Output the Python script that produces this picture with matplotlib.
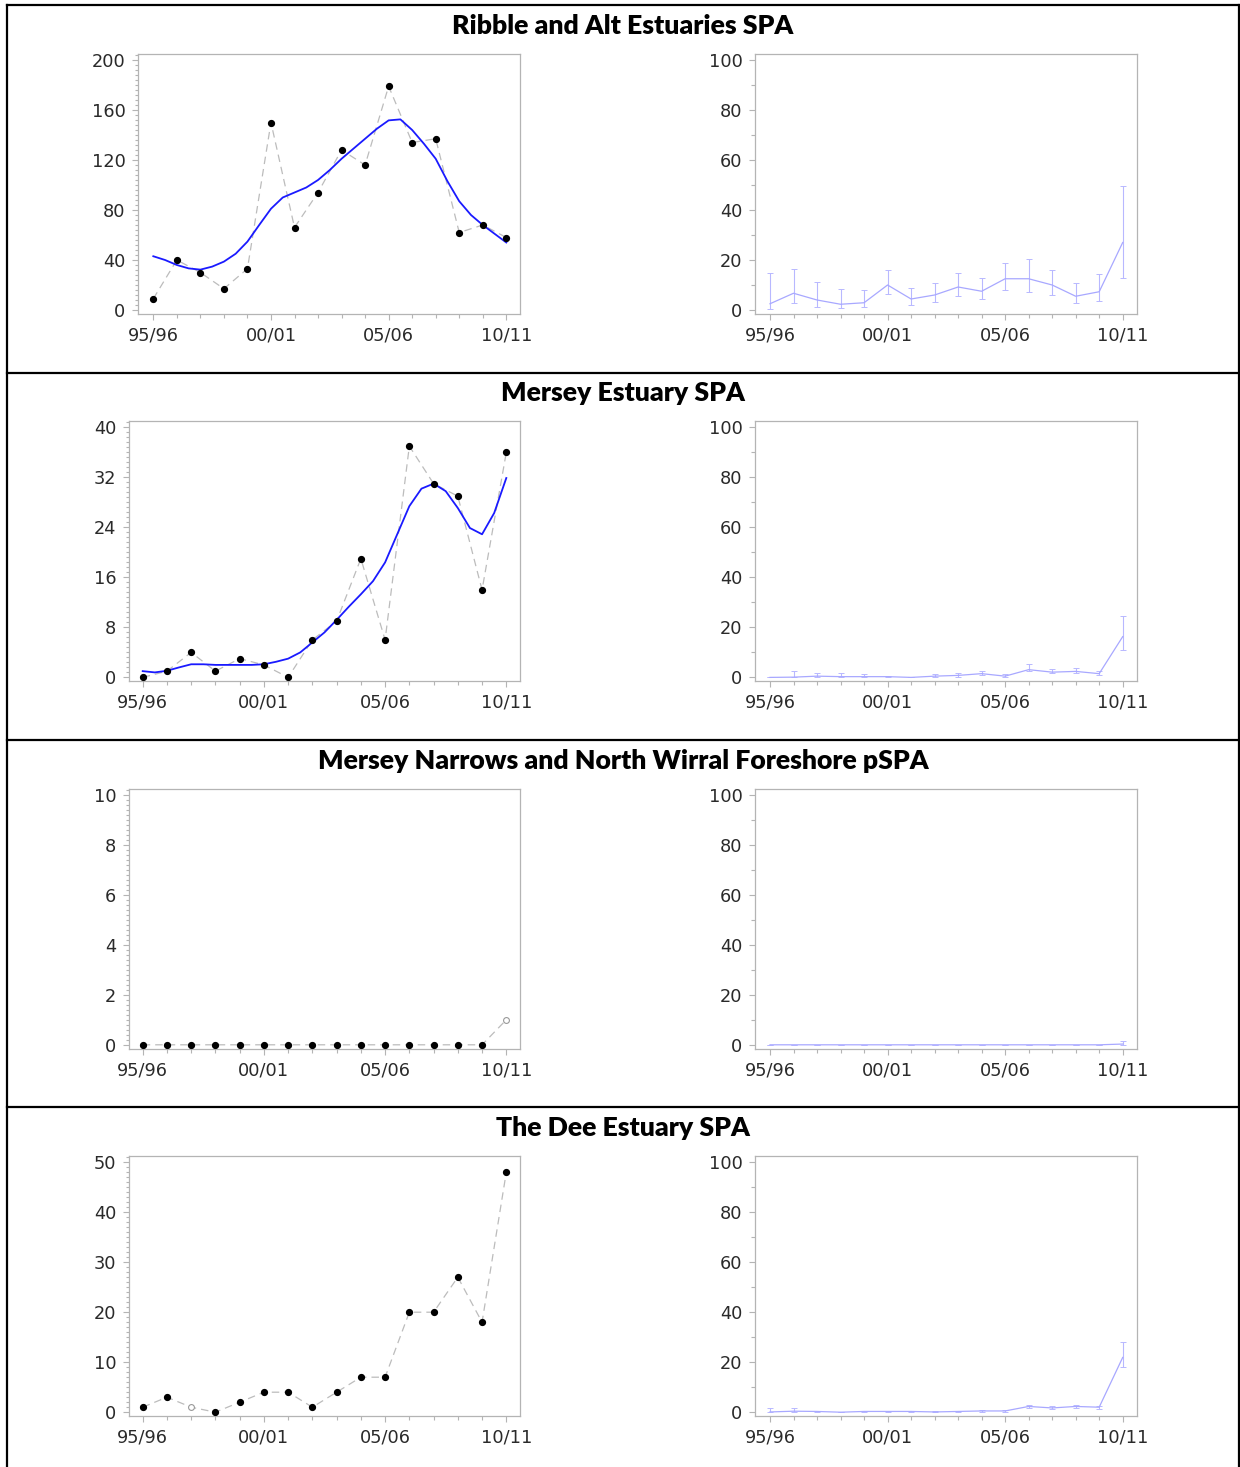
import numpy as np
import matplotlib
matplotlib.use("Agg")
import matplotlib.pyplot as plt
from matplotlib.lines import Line2D
from matplotlib.ticker import MultipleLocator

W, H = 1240, 1467

seasons = list(range(16))
season_ticks = [0, 5, 10, 15]
season_labels = ["95/96", "00/01", "05/06", "10/11"]
half_steps = [i / 2 for i in range(31)]

titles = ["Ribble and Alt Estuaries SPA",
          "Mersey Estuary SPA",
          "Mersey Narrows and North Wirral Foreshore pSPA",
          "The Dee Estuary SPA"]

# annual peak counts (left panels)
ribble_counts = [9, 40, 30, 17, 33, 150, 66, 94, 128, 116, 179, 134, 137, 62, 68, 58]
mersey_counts = [0, 1, 4, 1, 3, 2, 0, 6, 9, 19, 6, 37, 31, 29, 14, 36]
narrows_counts = [0, 0, 0, 0, 0, 0, 0, 0, 0, 0, 0, 0, 0, 0, 0, 1]
dee_counts = [1, 3, 1, 0, 2, 4, 4, 1, 4, 7, 7, 20, 20, 27, 18, 48]

# seasons drawn as open (incomplete) circles
ribble_open = []
mersey_open = []
narrows_open = [15]
dee_open = [2]

# smoothed trend, read at half-season steps
ribble_smooth = [43, 40, 36, 33.3, 32.3, 34.7, 38.7, 45, 54.7, 68, 81, 90, 94, 98,
                 104, 112, 121, 129, 137, 145, 151.7, 152.5, 144, 133, 121, 103,
                 87, 76, 68, 61, 54]
mersey_smooth = [1, 0.8, 1.06, 1.6, 2.1, 2.1, 2.0, 2.0, 2.0, 2.0, 2.1, 2.5, 3.0, 4,
                 5.6, 7.2, 9.2, 11.3, 13.3, 15.4, 18.4, 22.9, 27.4, 30.2, 31, 29.8,
                 27.1, 23.9, 22.9, 26.3, 31.9]

# percentage index with upper and lower bounds (right panels)
ribble_pct = [2.5, 6.7, 4, 2.3, 2.9, 10, 4.4, 6, 9.2, 7.5, 12.5, 12.5, 10, 5.5, 7.3, 27]
ribble_hi = [15, 16.4, 11.2, 8.5, 7.9, 16.1, 8.9, 10.7, 15, 12.9, 18.8, 20.3, 16.1, 11, 14.5, 49.7]
ribble_lo = [0.3, 2.8, 1.3, 0.7, 1.1, 6.3, 2, 3.3, 5.6, 4.4, 8, 7.3, 6, 2.7, 3.6, 12.7]

mersey_pct = [0, 0.1, 0.5, 0.3, 0.3, 0.3, 0, 0.5, 0.8, 1.5, 0.5, 3.1, 2.1, 2.4, 1.5, 16.3]
mersey_hi = [0, 2.5, 1.7, 1.6, 1.2, 0.6, 0, 1.2, 1.6, 2.4, 1.2, 5.3, 3.5, 3.7, 2.4, 24.5]
mersey_lo = [0, 0, 0, 0, 0, 0, 0, 0.1, 0.2, 0.8, 0.1, 2.4, 1.6, 1.6, 0.9, 10.9]

narrows_pct = [0, 0, 0, 0, 0, 0, 0, 0, 0, 0, 0, 0, 0, 0, 0, 0.3]
narrows_hi = [0, 0, 0, 0, 0, 0, 0, 0, 0, 0, 0, 0, 0, 0, 0, 1.4]
narrows_lo = [0, 0, 0, 0, 0, 0, 0, 0, 0, 0, 0, 0, 0, 0, 0, 0]

dee_pct = [0.1, 0.4, 0.3, 0, 0.3, 0.3, 0.3, 0.1, 0.3, 0.5, 0.5, 2.3, 1.7, 2.3, 2.0, 21.9]
dee_hi = [1.6, 1.5, 0.6, 0, 0.6, 0.5, 0.5, 0.3, 0.5, 0.9, 0.9, 2.8, 2.4, 2.8, 2.6, 27.9]
dee_lo = [0, 0, 0, 0, 0, 0.1, 0.1, 0, 0.1, 0.1, 0.1, 1.6, 1.1, 1.8, 1.3, 18]

counts = [ribble_counts, mersey_counts, narrows_counts, dee_counts]
opens = [ribble_open, mersey_open, narrows_open, dee_open]
smooths = [ribble_smooth, mersey_smooth, None, None]
ymax_left = [200, 40, 10, 50]
ystep_left = [40, 8, 2, 10]
pcts = [ribble_pct, mersey_pct, narrows_pct, dee_pct]
his = [ribble_hi, mersey_hi, narrows_hi, dee_hi]
los = [ribble_lo, mersey_lo, narrows_lo, dee_lo]

plt.rcParams['font.family'] = 'DejaVu Sans'
AXC = '#b4b4b4'
TXC = '#2a2a2a'

fig = plt.figure(figsize=(W / 100, H / 100), dpi=100)


def make_axes(left, right, top, bottom, x0, x15, ymax):
    ax = fig.add_axes([left / W, 1 - bottom / H, (right - left) / W, (bottom - top) / H])
    ppy = (x15 - x0) / 15
    ax.set_xlim(-(x0 - left) / ppy, 15 + (right - x15) / ppy)
    ax.set_ylim(-0.016 * ymax, 1.024 * ymax)
    for s in ax.spines.values():
        s.set_color(AXC)
        s.set_linewidth(0.9)
    ax.set_xticks(season_ticks)
    ax.set_xticklabels(season_labels)
    ax.xaxis.set_minor_locator(MultipleLocator(1))
    ax.tick_params(which='both', direction='out', color=AXC, width=0.8,
                   labelsize=12.8, labelcolor=TXC)
    ax.tick_params(which='major', length=4, pad=5)
    ax.tick_params(which='minor', length=3)
    return ax


for r in range(4):
    top = 54 + r * 367.4
    bottom = 314 + r * 367.4

    # left: annual counts with smoothed trend
    left_px = 138 if ymax_left[r] >= 100 else 129
    x0 = 153.3 if ymax_left[r] >= 100 else 142.7
    ax = make_axes(left_px, 520, top, bottom, x0, 506.3, ymax_left[r])
    ax.set_yticks(np.arange(0, ymax_left[r] + 0.1, ystep_left[r]))
    ax.yaxis.set_minor_locator(MultipleLocator(ystep_left[r] / 10))
    ax.tick_params(axis='y', which='minor', length=2)
    ax.plot(seasons, counts[r], color='#bcbcbc', lw=0.9, ls=(0, (6, 4)), zorder=2)
    if smooths[r] is not None:
        ax.plot(half_steps, smooths[r], color='#1a1aff', lw=1.3, zorder=3)
    full = [i for i in seasons if i not in opens[r]]
    ax.plot(full, [counts[r][i] for i in full], 'o', color='black', ms=4.2, zorder=4)
    if opens[r]:
        ax.plot(opens[r], [counts[r][i] for i in opens[r]], 'o', mfc='white',
                mec='#999999', mew=0.8, ms=4.2, zorder=4)

    # right: index with confidence limits
    ax2 = make_axes(755, 1137, top, bottom, 770, 1122.7, 100)
    ax2.set_yticks([0, 20, 40, 60, 80, 100])
    ax2.yaxis.set_minor_locator(MultipleLocator(10))
    p = np.array(pcts[r])
    err = [p - np.array(los[r]), np.array(his[r]) - p]
    ax2.errorbar(seasons, p, yerr=err, color='#a8a8ff', ecolor='#b8b8ff', lw=0.9,
                 elinewidth=0.8, capsize=2, capthick=0.7, zorder=3)

    # row title
    fig.text(623 / W, 1 - (26 + r * 367.4) / H, titles[r], ha='center', va='center',
             fontsize=19.2, fontweight='heavy', family='Lato', color='black')

# frame around the table of panels
def fig_line(x1, y1, x2, y2):
    fig.add_artist(Line2D([x1 / W, x2 / W], [1 - y1 / H, 1 - y2 / H],
                          color='black', lw=1.6))

fig_line(7, 5, 1239, 5)
fig_line(7, 5, 7, 1467)
fig_line(1239, 5, 1239, 1467)
for yy in [373, 740, 1107]:
    fig_line(7, yy, 1239, yy)

fig.savefig("out.png", dpi=100)
